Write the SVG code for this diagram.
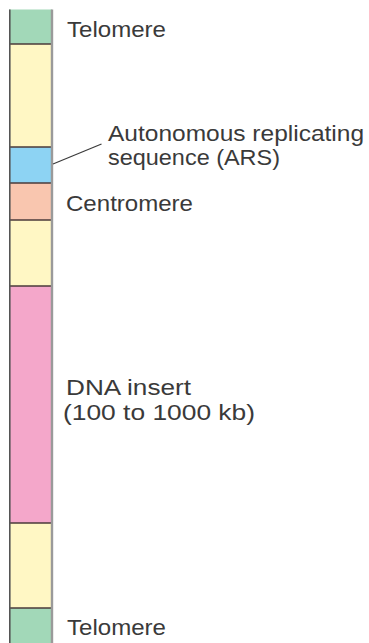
<svg xmlns="http://www.w3.org/2000/svg" width="369" height="643" viewBox="0 0 369 643">
<style>
.lbl{font-family:"Liberation Sans",Arial,sans-serif;font-size:22.5px;fill:#3a3a3a}
.seg{stroke:none}
.div{stroke:#4a3a3a;stroke-width:1.5}
</style>
<rect width="369" height="643" fill="#ffffff"/>
<g id="column">
<g id="telomere-top"><rect class="seg" x="9" y="9.5" width="43" height="34.5" fill="#a2d8b8"/></g>
<g id="spacer-1"><rect class="seg" x="9" y="44" width="43" height="103" fill="#fff7c4"/></g>
<g id="ars"><rect class="seg" x="9" y="147" width="43" height="36" fill="#8dd3f3"/></g>
<g id="centromere"><rect class="seg" x="9" y="183" width="43" height="37" fill="#f9c6af"/></g>
<g id="spacer-2"><rect class="seg" x="9" y="220" width="43" height="66" fill="#fff7c4"/></g>
<g id="dna-insert"><rect class="seg" x="9" y="286" width="43" height="237" fill="#f4a7ca"/></g>
<g id="spacer-3"><rect class="seg" x="9" y="523" width="43" height="85" fill="#fff7c4"/></g>
<g id="telomere-bottom"><rect class="seg" x="9" y="608" width="43" height="35" fill="#a2d8b8"/></g>
<g id="borders">
<line class="div" x1="9" y1="44" x2="52" y2="44"/>
<line class="div" x1="9" y1="147" x2="52" y2="147"/>
<line class="div" x1="9" y1="183" x2="52" y2="183"/>
<line class="div" x1="9" y1="220" x2="52" y2="220"/>
<line class="div" x1="9" y1="286" x2="52" y2="286"/>
<line class="div" x1="9" y1="523" x2="52" y2="523"/>
<line class="div" x1="9" y1="608" x2="52" y2="608"/>
<line x1="9.8" y1="9.5" x2="9.8" y2="643" stroke="#555" stroke-width="1.6"/>
<line x1="52" y1="9.5" x2="52" y2="643" stroke="#9a9a9a" stroke-width="2.4"/>
</g>
</g>
<g id="connectors">
<line x1="53" y1="164" x2="101.5" y2="144" stroke="#3a3a3a" stroke-width="1.2"/>
</g>
<g id="labels">
<text class="lbl" x="67" y="36.5" textLength="99" lengthAdjust="spacingAndGlyphs">Telomere</text>
<text class="lbl" x="108" y="140.5" textLength="256" lengthAdjust="spacingAndGlyphs">Autonomous replicating</text>
<text class="lbl" x="108" y="165" textLength="172" lengthAdjust="spacingAndGlyphs">sequence (ARS)</text>
<text class="lbl" x="66" y="210.5" textLength="127" lengthAdjust="spacingAndGlyphs">Centromere</text>
<text class="lbl" x="66" y="395" textLength="125" lengthAdjust="spacingAndGlyphs">DNA insert</text>
<text class="lbl" x="63" y="419.5" textLength="192" lengthAdjust="spacingAndGlyphs">(100 to 1000 kb)</text>
<text class="lbl" x="67" y="635" textLength="99" lengthAdjust="spacingAndGlyphs">Telomere</text>
</g>
</svg>
